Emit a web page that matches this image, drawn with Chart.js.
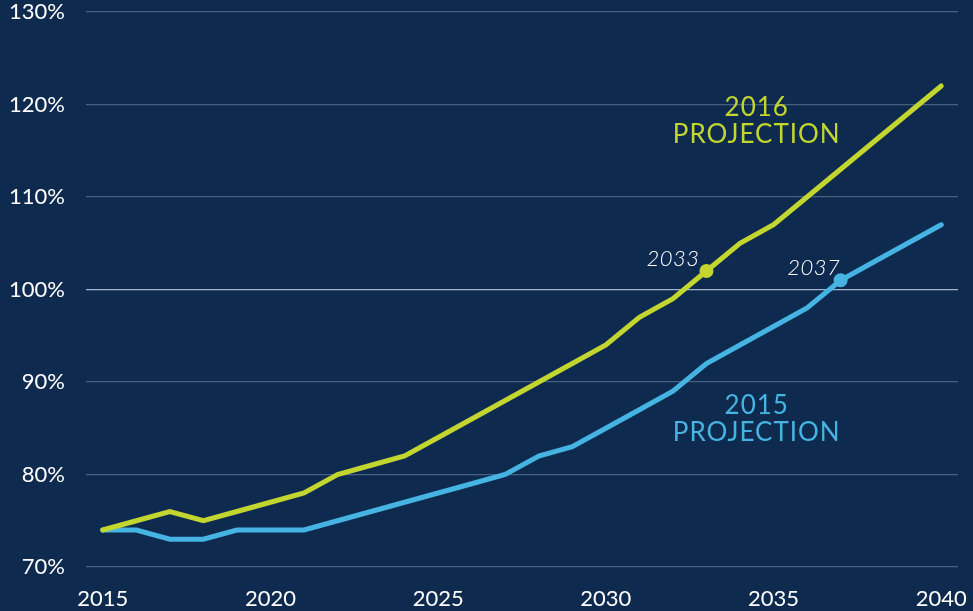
<!DOCTYPE html>
<html>
<head>
<meta charset="utf-8">
<script src="https://cdn.jsdelivr.net/npm/chart.js@4/dist/chart.umd.min.js"></script>
<style>
  html, body { margin: 0; padding: 0; background: #0f2a4f; }
  #wrap { width: 973px; height: 611px; position: relative; }
</style>
</head>
<body>
<div id="wrap"><canvas id="projChart"></canvas></div>
<script>
// Data
const years = [2015, 2016, 2017, 2018, 2019, 2020, 2021, 2022, 2023, 2024, 2025, 2026, 2027,
  2028, 2029, 2030, 2031, 2032, 2033, 2034, 2035, 2036, 2037, 2038, 2039, 2040];
const proj2016 = [74, 75, 76, 75, 76, 77, 78, 80, 81, 82, 84, 86, 88,
  90, 92, 94, 97, 99, 102, 105, 107, 110, 113, 116, 119, 122];
const proj2015 = [74, 74, 73, 73, 74, 74, 74, 75, 76, 77, 78, 79, 80,
  82, 83, 85, 87, 89, 92, 94, 96, 98, 101, 103, 105, 107];
const xTicks = [2015, 2020, 2025, 2030, 2035, 2040];
const yTicks = [70, 80, 90, 100, 110, 120, 130];

// marked crossing years and series labels
const mark2016 = 2033;
const mark2015 = 2037;
const label2016 = ['2016', 'PROJECTION'];
const label2015 = ['2015', 'PROJECTION'];

const GREEN = '#c3d52f';
const BLUE = '#46b4e2';
const FONT = 'Lato, "Open Sans", sans-serif';

function toPoints(vals) {
  return vals.map((v, i) => ({ x: years[i], y: v }));
}

// draws the text notes at data positions
const notesPlugin = {
  id: 'notes',
  afterDatasetsDraw(chart) {
    const { ctx, scales: { x, y } } = chart;
    ctx.save();
    ctx.textAlign = 'center';
    ctx.textBaseline = 'middle';
    ctx.letterSpacing = '1px';

    ctx.font = '400 26px ' + FONT;
    ctx.fillStyle = GREEN;
    ctx.fillText(label2016[0], x.getPixelForValue(2034.5), y.getPixelForValue(119.7));
    ctx.fillText(label2016[1], x.getPixelForValue(2034.5), y.getPixelForValue(116.7));
    ctx.fillStyle = BLUE;
    ctx.fillText(label2015[0], x.getPixelForValue(2034.5), y.getPixelForValue(87.5));
    ctx.fillText(label2015[1], x.getPixelForValue(2034.5), y.getPixelForValue(84.5));

    ctx.letterSpacing = '0.5px';
    ctx.font = 'italic 300 22px ' + FONT;
    ctx.fillStyle = '#ffffff';
    ctx.fillText(String(mark2016), x.getPixelForValue(2032.0), y.getPixelForValue(103.3));
    ctx.fillText(String(mark2015), x.getPixelForValue(2036.2), y.getPixelForValue(102.3));
    ctx.restore();
  }
};

const ctx = document.getElementById('projChart').getContext('2d');
new Chart(ctx, {
  type: 'line',
  data: {
    datasets: [{
      label: '2016 Projection',
      data: toPoints(proj2016),
      borderColor: GREEN,
      backgroundColor: GREEN,
      borderWidth: 5,
      borderCapStyle: 'round',
      pointRadius: c => (years[c.dataIndex] === mark2016 ? 4.5 : 0),
      pointHoverRadius: 0,
      tension: 0
    }, {
      label: '2015 Projection',
      data: toPoints(proj2015),
      borderColor: BLUE,
      backgroundColor: BLUE,
      borderWidth: 5,
      borderCapStyle: 'round',
      pointRadius: c => (years[c.dataIndex] === mark2015 ? 4.5 : 0),
      pointHoverRadius: 0,
      tension: 0
    }]
  },
  options: {
    responsive: true,
    maintainAspectRatio: false,
    animation: false,
    layout: { padding: { left: 0, right: 15, top: 0, bottom: 0 } },
    plugins: {
      legend: { display: false },
      tooltip: { enabled: false }
    },
    scales: {
      x: {
        type: 'linear',
        min: 2014.5,
        max: 2040.5,
        afterBuildTicks: axis => { axis.ticks = xTicks.map(v => ({ value: v })); },
        afterFit: axis => {
          axis.height = 44;
          axis.paddingLeft = 0;
          axis.paddingRight = 0;
        },
        grid: { display: false, drawTicks: false },
        border: { display: false },
        ticks: {
          color: '#ffffff',
          font: { family: FONT, size: 22 },
          padding: 19,
          maxRotation: 0,
          autoSkip: false,
          callback: v => String(v)
        }
      },
      y: {
        min: 70,
        max: 130,
        afterBuildTicks: axis => { axis.ticks = yTicks.map(v => ({ value: v })); },
        afterFit: axis => {
          axis.width = 86;
          axis.paddingTop = 12;
          axis.paddingBottom = 0;
        },
        grid: {
          drawTicks: false,
          lineWidth: 1.2,
          color: c => (c.tick && c.tick.value === 100 ? '#a3b3ca' : '#46607f')
        },
        border: { display: false },
        ticks: {
          color: '#ffffff',
          font: { family: FONT, size: 22 },
          padding: 21,
          callback: v => v + '%'
        }
      }
    }
  },
  plugins: [notesPlugin]
});
</script>
</body>
</html>
